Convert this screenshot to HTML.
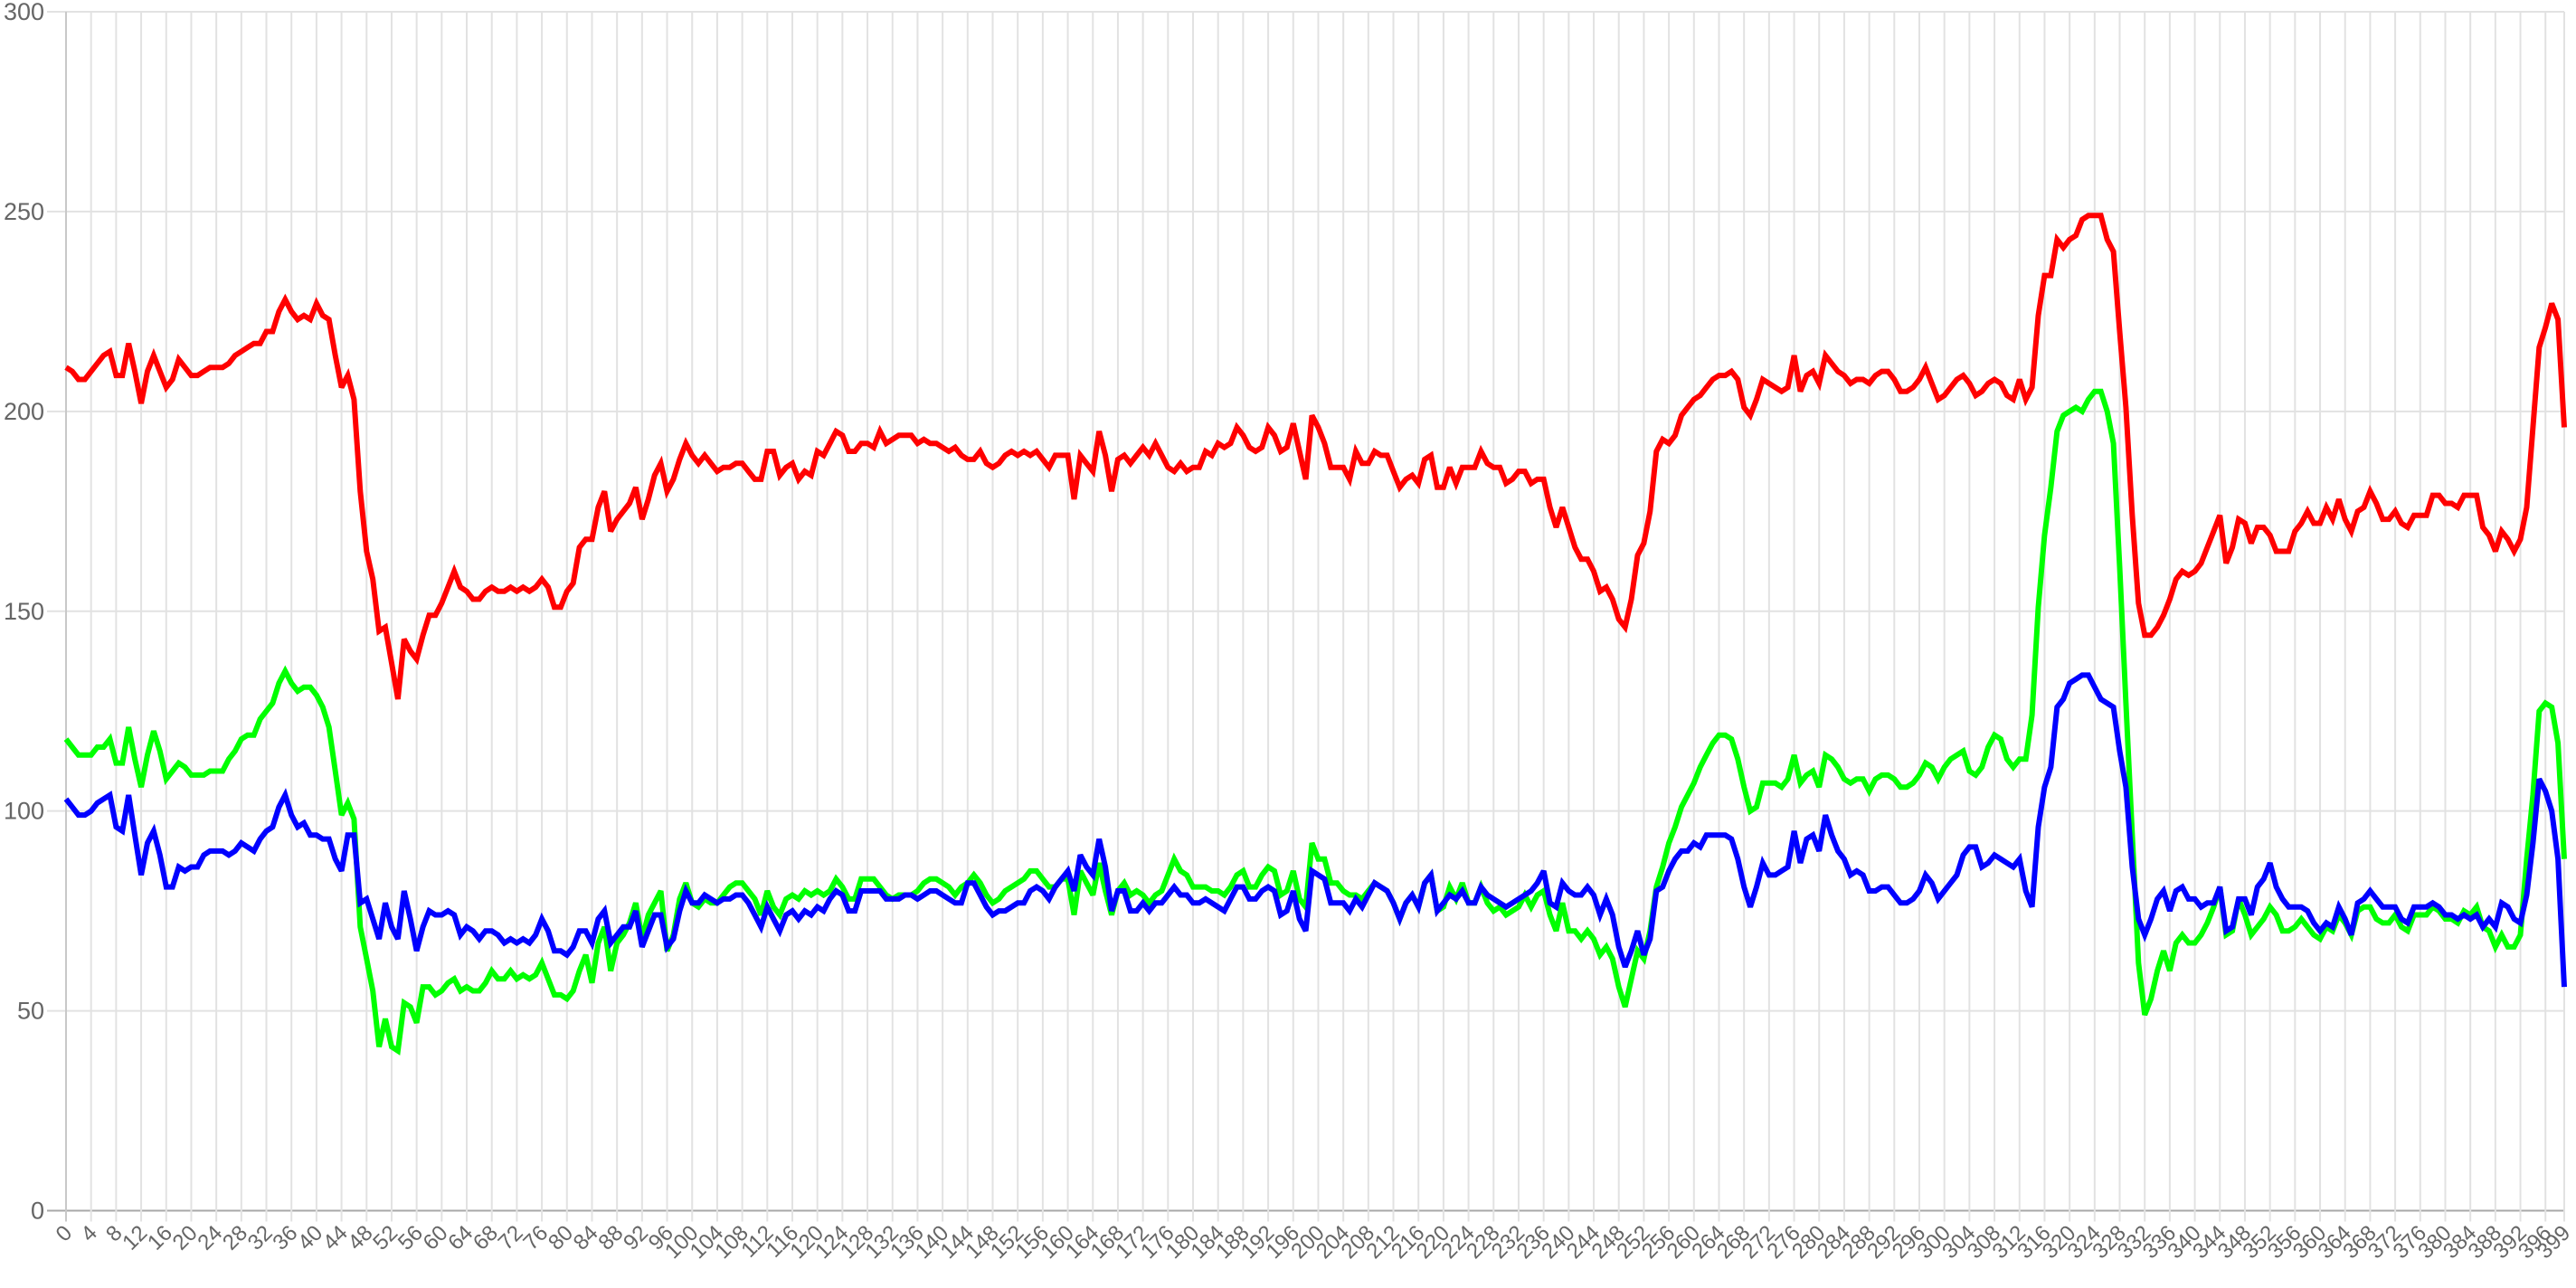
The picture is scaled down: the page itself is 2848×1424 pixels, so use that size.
<!DOCTYPE html>
<html><head><meta charset="utf-8"><title>Line chart</title>
<style>html,body{margin:0;padding:0;background:#fff;}svg{display:block;}</style></head>
<body>
<svg id="chart" width="2848" height="1424" xmlns="http://www.w3.org/2000/svg" font-family="Liberation Sans, sans-serif">
<g id="grid"></g>
<g id="yaxis"></g>
<g id="xaxis"></g>
<g id="series"></g>
</svg>
<script>
const yTicks = [0,50,100,150,200,250,300];
const redSeries = [
211,210,208,208,210,212,214,215,209,209,217,210,202,210,214,210,206,208,213,211,
209,209,210,211,211,211,212,214,215,216,217,217,220,220,225,228,225,223,224,223,
227,224,223,214,206,209,203,180,165,158,145,146,137,128,143,140,138,144,149,149,
152,156,160,156,155,153,153,155,156,155,155,156,155,156,155,156,158,156,151,151,
155,157,166,168,168,176,180,170,173,175,177,181,173,178,184,187,180,183,188,192,
189,187,189,187,185,186,186,187,187,185,183,183,190,190,184,186,187,183,185,184,
190,189,192,195,194,190,190,192,192,191,195,192,193,194,194,194,192,193,192,192,
191,190,191,189,188,188,190,187,186,187,189,190,189,190,189,190,188,186,189,189,
189,178,189,187,185,195,189,180,188,189,187,189,191,189,192,189,186,185,187,185,
186,186,190,189,192,191,192,196,194,191,190,191,196,194,190,191,197,190,183,199,
196,192,186,186,186,183,190,187,187,190,189,189,185,181,183,184,182,188,189,181,
181,186,182,186,186,186,190,187,186,186,182,183,185,185,182,183,183,176,171,176,
171,166,163,163,160,155,156,153,148,146,153,164,167,175,190,193,192,194,199,201,
203,204,206,208,209,209,210,208,201,199,203,208,207,206,205,206,214,205,209,210,
207,214,212,210,209,207,208,208,207,209,210,210,208,205,205,206,208,211,207,203,
204,206,208,209,207,204,205,207,208,207,204,203,208,203,206,224,234,234,243,241,
243,244,248,249,249,249,243,240,220,201,174,152,144,144,146,149,153,158,160,159,
160,162,166,170,174,162,166,173,172,167,171,171,169,165,165,165,170,172,175,172,
172,176,173,178,173,170,175,176,180,177,173,173,175,172,171,174,174,174,179,179,
177,177,176,179,179,179,171,169,165,170,168,165,168,176,196,216,221,227,223,196];
const greenSeries = [
118,116,114,114,114,116,116,118,112,112,121,113,106,114,120,115,108,110,112,111,
109,109,109,110,110,110,113,115,118,119,119,123,125,127,132,135,132,130,131,131,
129,126,121,110,99,102,98,71,63,55,41,48,41,40,52,51,47,56,56,54,
55,57,58,55,56,55,55,57,60,58,58,60,58,59,58,59,62,58,54,54,
53,55,60,64,57,67,71,60,67,69,72,77,68,74,77,80,65,69,78,82,
77,76,78,77,77,79,81,82,82,80,78,74,80,76,74,78,79,78,80,79,
80,79,80,83,81,78,78,83,83,83,81,79,78,79,79,79,80,82,83,83,
82,81,79,81,82,84,82,79,77,78,80,81,82,83,85,85,83,81,81,83,
83,74,85,82,79,87,80,74,80,82,79,80,79,77,79,80,84,88,85,84,
81,81,81,80,80,79,81,84,85,81,81,84,86,85,79,80,85,78,76,92,
88,88,82,82,80,79,79,78,80,82,81,80,77,73,77,79,76,82,84,75,
76,81,78,82,77,77,81,77,75,76,74,75,76,79,76,79,80,74,70,77,
70,70,68,70,68,64,66,63,56,51,58,65,63,70,81,86,92,96,101,104,
107,111,114,117,119,119,118,113,106,100,101,107,107,107,106,108,114,107,109,110,
106,114,113,111,108,107,108,108,105,108,109,109,108,106,106,107,109,112,111,108,
111,113,114,115,110,109,111,116,119,118,113,111,113,113,124,151,169,181,195,199,
200,201,200,203,205,205,200,192,161,127,94,62,49,53,60,65,60,67,69,67,
67,69,72,76,81,69,70,78,74,69,71,73,76,74,70,70,71,73,71,69,
68,71,70,74,72,69,75,76,76,73,72,72,74,71,70,74,74,74,76,75,
73,73,72,75,74,76,71,70,66,69,66,66,69,88,104,125,127,126,117,88];
const blueSeries = [
103,101,99,99,100,102,103,104,96,95,104,94,84,92,95,89,81,81,86,85,
86,86,89,90,90,90,89,90,92,91,90,93,95,96,101,104,99,96,97,94,
94,93,93,88,85,94,94,77,78,73,68,77,71,68,80,73,65,71,75,74,
74,75,74,69,71,70,68,70,70,69,67,68,67,68,67,69,73,70,65,65,
64,66,70,70,67,73,75,67,69,71,71,75,66,70,74,74,66,68,75,80,
77,77,79,78,77,78,78,79,79,77,74,71,76,73,70,74,75,73,75,74,
76,75,78,80,79,75,75,80,80,80,80,78,78,78,79,79,78,79,80,80,
79,78,77,77,82,82,79,76,74,75,75,76,77,77,80,81,80,78,81,83,
85,80,89,86,84,93,86,75,80,80,75,75,77,75,77,77,79,81,79,79,
77,77,78,77,76,75,78,81,81,78,78,80,81,80,74,75,80,73,70,85,
84,83,77,77,77,75,78,76,79,82,81,80,77,73,77,79,76,82,84,75,
77,79,78,80,77,77,81,79,78,77,76,77,78,79,80,82,85,77,76,82,
80,79,79,81,79,74,78,74,66,61,65,70,64,68,80,81,85,88,90,90,
92,91,94,94,94,94,93,88,81,76,81,87,84,84,85,86,95,87,93,94,
90,99,94,90,88,84,85,84,80,80,81,81,79,77,77,78,80,84,82,78,
80,82,84,89,91,91,86,87,89,88,87,86,88,80,76,96,106,111,126,128,
132,133,134,134,131,128,127,126,115,106,86,73,69,73,78,80,75,80,81,78,
78,76,77,77,81,70,71,78,78,74,81,83,87,81,78,76,76,76,75,72,
70,72,71,76,73,69,77,78,80,78,76,76,76,73,72,76,76,76,77,76,
74,74,73,74,73,74,71,73,71,77,76,73,72,79,92,108,105,100,88,56];
const xLabels = [];
for (let i = 0; i < 400; i += 4) xLabels.push(i);
xLabels.push(399);

const NS = 'http://www.w3.org/2000/svg';
const X0 = 73, X1 = 2835, Y0 = 1338.5, Y1 = 13, YMAX = 300, N = 400;
function xs(i){ return X0 + (X1 - X0) * i / (N - 1); }
function ys(v){ return Y0 - (Y0 - Y1) * v / YMAX; }
function mk(tag, attrs, parent){ const e = document.createElementNS(NS, tag); for (const k in attrs) e.setAttribute(k, attrs[k]); parent.appendChild(e); return e; }

const grid = document.getElementById('grid');
const yaxis = document.getElementById('yaxis');
const xaxis = document.getElementById('xaxis');
const series = document.getElementById('series');

yTicks.forEach(function(t){
  const l = mk('line', {x1: 52, x2: X1, y1: ys(t), y2: ys(t), stroke: t === 0 ? '#a8a8a8' : '#e2e2e2', 'stroke-width': 2}, grid);
  
  
  const tx = mk('text', {x: 49, y: ys(t) + 9, 'text-anchor': 'end', 'font-size': 27, fill: '#666'}, yaxis);
  tx.textContent = String(t);
  
  
});
xLabels.forEach(function(t){
  const x = xs(t);
  const l = mk('line', {x1: x, x2: x, y1: Y1, y2: Y0 + 12, stroke: t === 0 ? '#c8c8c8' : '#e2e2e2', 'stroke-width': 2}, grid);
  
  
  const tx = mk('text', {x: x + 8, y: Y0 + 26, 'text-anchor': 'end', 'font-size': 24, fill: '#666', transform: 'rotate(-45 ' + (x + 8) + ' ' + (Y0 + 26) + ')'}, xaxis);
  tx.textContent = String(t);
  
  
});
[['red-series', redSeries, '#ff0000'], ['green-series', greenSeries, '#00ff00'], ['blue-series', blueSeries, '#0000ff']].forEach(function(s){
  const pts = s[1].map(function(v, i){ return xs(i).toFixed(1) + ',' + ys(v).toFixed(1); }).join(' ');
  const p = mk('polyline', {points: pts, fill: 'none', stroke: s[2], 'stroke-width': 6, 'stroke-linejoin': 'miter', 'stroke-miterlimit': 3}, series);
  
  
});
</script>
</body></html>
